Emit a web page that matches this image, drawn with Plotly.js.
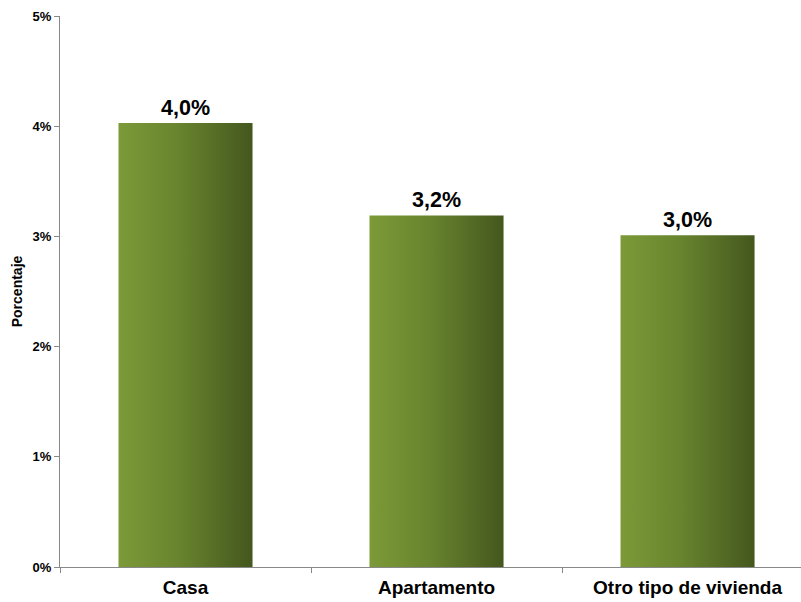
<!DOCTYPE html>
<html>
<head>
<meta charset="utf-8">
<script src="https://cdn.plot.ly/plotly-3.0.1.min.js"></script>
<style>html,body{margin:0;padding:0;background:#fff;}#chart{width:801px;height:602px;}</style>
</head>
<body>
<div id="chart"></div>
<script>
const categories = ["Casa", "Apartamento", "Otro tipo de vivienda"];
const values = [4.03, 3.19, 3.01];
const labels = ["4,0%", "3,2%", "3,0%"];
const yTickVals = [0, 1, 2, 3, 4, 5];
const yTickText = ["0%", "1%", "2%", "3%", "4%", "5%"];

const font = "Liberation Sans, Arial, sans-serif";

const trace = {
  type: "bar",
  x: categories,
  y: values,
  text: labels,
  textposition: "outside",
  cliponaxis: false,
  textfont: {family: font, size: 21.5, color: "#000", weight: "bold"},
  width: 0.534,
  marker: {color: "rgb(100,125,45)", line: {width: 0}},
  hoverinfo: "none"
};

const layout = {
  width: 801, height: 602,
  margin: {l: 60, r: 0, t: 16, b: 35},
  paper_bgcolor: "#fff", plot_bgcolor: "#fff",
  showlegend: false,
  font: {family: font, color: "#000"},
  xaxis: {
    type: "category",
    range: [-0.5, 2.452],
    tickson: "boundaries",
    ticks: "outside", ticklen: 5, tickcolor: "#888", tickwidth: 1,
    showline: true, linecolor: "#888", linewidth: 1,
    showgrid: false, zeroline: false,
    tickfont: {family: font, size: 19, color: "#000", weight: "bold"},
    ticklabelstandoff: 3,
    fixedrange: true
  },
  yaxis: {
    range: [0, 5],
    tickvals: yTickVals, ticktext: yTickText,
    ticks: "outside", ticklen: 5, tickcolor: "#888", tickwidth: 1,
    showline: true, linecolor: "#888", linewidth: 1,
    showgrid: false, zeroline: false,
    tickfont: {family: font, size: 13, color: "#000", weight: "bold"},
    title: {text: "Porcentaje", font: {family: font, size: 14, color: "#000", weight: "bold"}, standoff: 6},
    fixedrange: true
  }
};

Plotly.newPlot("chart", [trace], layout, {displayModeBar: false, staticPlot: true}).then(function (gd) {
  const svg = gd.querySelector("svg.main-svg");
  const ns = "http://www.w3.org/2000/svg";
  let defs = svg.querySelector("defs");
  if (!defs) { defs = document.createElementNS(ns, "defs"); svg.insertBefore(defs, svg.firstChild); }
  const grad = document.createElementNS(ns, "linearGradient");
  grad.setAttribute("id", "barGrad");
  grad.setAttribute("x1", "0"); grad.setAttribute("y1", "0");
  grad.setAttribute("x2", "1"); grad.setAttribute("y2", "0");
  [["0", "rgb(124,154,56)"], ["0.45", "rgb(104,132,46)"], ["1", "rgb(68,87,30)"]].forEach(function (s) {
    const st = document.createElementNS(ns, "stop");
    st.setAttribute("offset", s[0]);
    st.setAttribute("stop-color", s[1]);
    grad.appendChild(st);
  });
  defs.appendChild(grad);
  gd.querySelectorAll(".bars .point path").forEach(function (p) {
    p.style.fill = "url(#barGrad)";
  });
});
</script>
</body>
</html>
